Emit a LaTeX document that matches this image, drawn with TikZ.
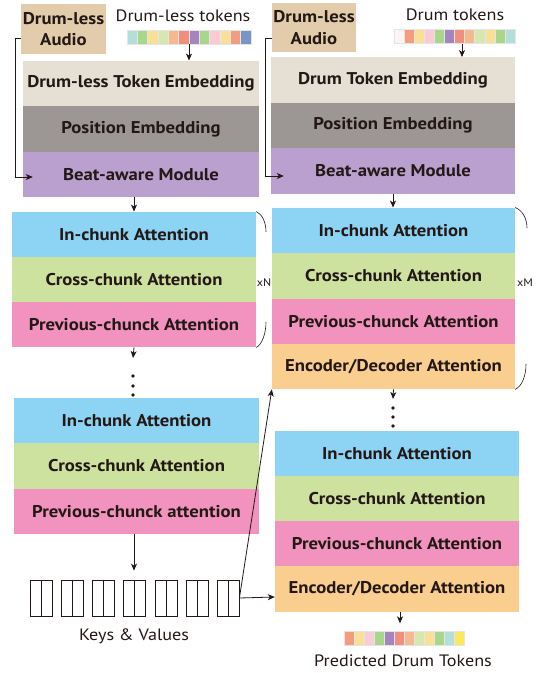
\documentclass[tikz,border=0pt]{standalone}
\usepackage{fontspec}
\setmainfont{PT Sans}[FakeStretch=1.1]
\usetikzlibrary{arrows.meta}
\definecolor{txt}{HTML}{231815}
\definecolor{audio}{HTML}{E3CCAB}
\definecolor{temb}{HTML}{E6E0D4}
\definecolor{pemb}{HTML}{9C9695}
\definecolor{beat}{HTML}{B9A0CF}
\definecolor{inch}{HTML}{8DD3F3}
\definecolor{crch}{HTML}{CDE29E}
\definecolor{prch}{HTML}{F193BE}
\definecolor{encd}{HTML}{F9CE8E}
\definecolor{cA}{HTML}{B3DEDC}
\definecolor{cB}{HTML}{A8D68A}
\definecolor{cC}{HTML}{F9DF98}
\definecolor{cD}{HTML}{D6E8B0}
\definecolor{cE}{HTML}{F5B98F}
\definecolor{cF}{HTML}{F08E80}
\definecolor{cG}{HTML}{A585BF}
\definecolor{cH}{HTML}{F9CCD5}
\definecolor{cI}{HTML}{F39C7E}
\definecolor{cJ}{HTML}{7895C8}
\definecolor{cK}{HTML}{FDF3F3}
\definecolor{cL}{HTML}{FCE85E}
\newcommand\bxfont{\fontsize{17}{21.5}\selectfont\bfseries}
\newcommand\lbfont{\fontsize{16.5}{19}\selectfont}
\begin{document}
\begin{tikzpicture}[x=1pt,y=-1pt,
  every node/.style={text=txt},
  layer/.style={rectangle, inner sep=0pt, font=\bxfont, minimum height=45.5pt},
  audiobox/.style={rectangle, fill=audio, inner sep=0pt, font=\bxfont, align=center, minimum width=85pt, minimum height=50pt},
  lbl/.style={font=\lbfont, inner sep=0pt},
  arr/.style={draw=txt, line width=0.8pt, -{Stealth[length=7pt,width=6pt,inset=2pt]}},
  ln/.style={draw=txt, line width=0.8pt},
  kv/.style={rectangle, draw=txt, line width=0.8pt, minimum width=22pt, minimum height=36pt, inner sep=0pt},
  strip/.style={rectangle, inner sep=0pt, minimum height=14pt},
  cell/.style={draw=white!80!gray, line width=0.4pt},
  dot/.style={fill=txt},
  times/.style={font=\fontsize{11}{13}\selectfont, inner sep=0pt}]
\useasboundingbox (0,0) rectangle (543,673);

% ---------- left column (encoder) ----------
\node[audiobox] (audioL) at (63.5,29) {Drum-less\\Audio};
\node[lbl] (tokLlab) at (183,16) {Drum-less tokens};
\node[strip, minimum width=124pt] (stripL) at (189,37) {};
\foreach \c [count=\i] in {cA,cB,cC,cD,cE,cF,cG,cB,cH,cC,cI,cJ}
  \path[cell, fill=\c] ({127+(\i-1)*10.333},30) rectangle ++(10.333,14);

\begin{scope}[every node/.append style={minimum width=236pt}]
\node[layer, fill=temb] (embL) at (141,83.5) {Drum-less Token Embedding};
\node[layer, fill=pemb] (posL) at (141,129) {Position Embedding};
\node[layer, fill=beat] (beatL) at (141,174.5) {Beat-aware Module};
\end{scope}

\begin{scope}[every node/.append style={minimum width=244pt}]
\node[layer, fill=inch] (inL1) at (134,234.5) {In-chunk Attention};
\node[layer, fill=crch] (crL1) at (134,279.5) {Cross-chunk Attention};
\node[layer, fill=prch] (prL1) at (134,324.5) {Previous-chunck Attention};
\end{scope}
\node[times] (xN) at (264,283) {xN};
\draw[ln, line width=0.6pt] (inL1.north east) .. controls (262,214) and (266,222) .. (266,232);
\draw[ln, line width=0.6pt] (266,322) .. controls (266,333) and (262,345) .. (prL1.south east);

\coordinate (dL) at (133,358);
\fill[dot] (133,376) circle[radius=1.9pt];
\fill[dot] (133,386) circle[radius=1.9pt];
\fill[dot] (133,395) circle[radius=1.9pt];

\begin{scope}[every node/.append style={minimum width=245pt}]
\node[layer, fill=inch] (inL2) at (136.5,421) {In-chunk Attention};
\node[layer, fill=crch] (crL2) at (136.5,466) {Cross-chunk Attention};
\node[layer, fill=prch] (prL2) at (136.5,511.5) {Previous-chunck attention};
\end{scope}

\foreach \i/\x in {1/41,2/72,3/103,4/134,5/166,6/197,7/228} {
  \node[kv] (kv\i) at (\x,598) {};
  \draw[ln] (kv\i.north) -- (kv\i.south);
}
\node[lbl] (kvlab) at (134,636) {Keys \& Values};

% ---------- right column (decoder) ----------
\node[audiobox, minimum width=84pt, minimum height=49pt] (audioR) at (314,27.5) {Drum-less\\Audio};
\node[lbl] (tokRlab) at (455,15) {Drum tokens};
\node[strip, minimum width=121pt] (stripR) at (454.5,36.5) {};
\foreach \c [count=\i] in {cK,cI,cC,cH,cB,cG,cF,cE,cD,cC,cB,cA}
  \path[cell, fill=\c] ({394+(\i-1)*10.083},29.5) rectangle ++(10.083,14);

\begin{scope}[every node/.append style={minimum width=244pt}]
\node[layer, fill=temb] (embR) at (393,80) {Drum Token Embedding};
\node[layer, fill=pemb] (posR) at (393,125.5) {Position Embedding};
\node[layer, fill=beat] (beatR) at (393,171) {Beat-aware Module};
\end{scope}

\begin{scope}[every node/.append style={minimum width=243pt}]
\node[layer, fill=inch] (inR1) at (393.5,230.5) {In-chunk Attention};
\node[layer, fill=crch] (crR1) at (393.5,276) {Cross-chunk Attention};
\node[layer, fill=prch] (prR1) at (393.5,321.5) {Previous-chunck Attention};
\node[layer, fill=encd] (encR1) at (393.5,366.5) {Encoder/Decoder Attention};
\end{scope}
\node[times] (xM) at (525,283) {xM};
\draw[ln, line width=0.6pt] (inR1.north east) .. controls (522,210) and (527,218) .. (527,228);
\draw[ln, line width=0.6pt] (526,364) .. controls (526,376) and (522,386) .. (encR1.south east);

\coordinate (dR) at (393,399);
\fill[dot] (393,408) circle[radius=1.9pt];
\fill[dot] (393,417) circle[radius=1.9pt];
\fill[dot] (393,426) circle[radius=1.9pt];

\begin{scope}[every node/.append style={minimum width=244pt}]
\node[layer, fill=inch] (inR2) at (397,453.5) {In-chunk Attention};
\node[layer, fill=crch] (crR2) at (397,498.5) {Cross-chunk Attention};
\node[layer, fill=prch] (prR2) at (397,544) {Previous-chunck Attention};
\node[layer, fill=encd] (encR2) at (397,589) {Encoder/Decoder Attention};
\end{scope}

\node[strip, minimum width=120pt] (stripP) at (404,638.5) {};
\foreach \c [count=\i] in {cI,cC,cH,cB,cG,cF,cE,cD,cC,cB,cA,cL}
  \path[cell, fill=\c] ({344+(\i-1)*10},631.5) rectangle ++(10,14);
\node[lbl] (predlab) at (403,661) {Predicted Drum Tokens};

% ---------- connectors ----------
\draw[arr] (stripL.south) -- (stripL.south |- embL.north);
\draw[arr] ([xshift=7.5pt]stripR.south) -- ([xshift=7.5pt]stripR.south |- embR.north);
\draw[arr] ([yshift=-9pt]audioL.west) -- ++(-5,0) |- ([xshift=10pt,yshift=-2.5pt]beatL.west);
\draw[arr] ([yshift=-10.5pt]audioR.west) -- ++(-6,0) |- ([xshift=13pt,yshift=-5pt]beatR.west);
\draw[arr] (inL1.north |- beatL.south) -- (inL1.north);
\draw[arr] (beatR.south) -- (beatR.south |- inR1.north);
\draw[arr] (prL1.south) -- (dL);
\draw[arr] (encR1.south) -- (dR);
\draw[arr, shorten >=9pt] (kv4.north |- prL2.south) -- (kv4.north);
\draw[arr] (kv7.east) -- (encR1.south west);
\draw[arr] (kv7.east) -- ([yshift=-8pt]encR2.west);
\draw[arr, shorten >=8pt] ([xshift=-4pt]stripP.north |- encR2.south) -- ([xshift=-4pt]stripP.north);
\end{tikzpicture}
\end{document}
